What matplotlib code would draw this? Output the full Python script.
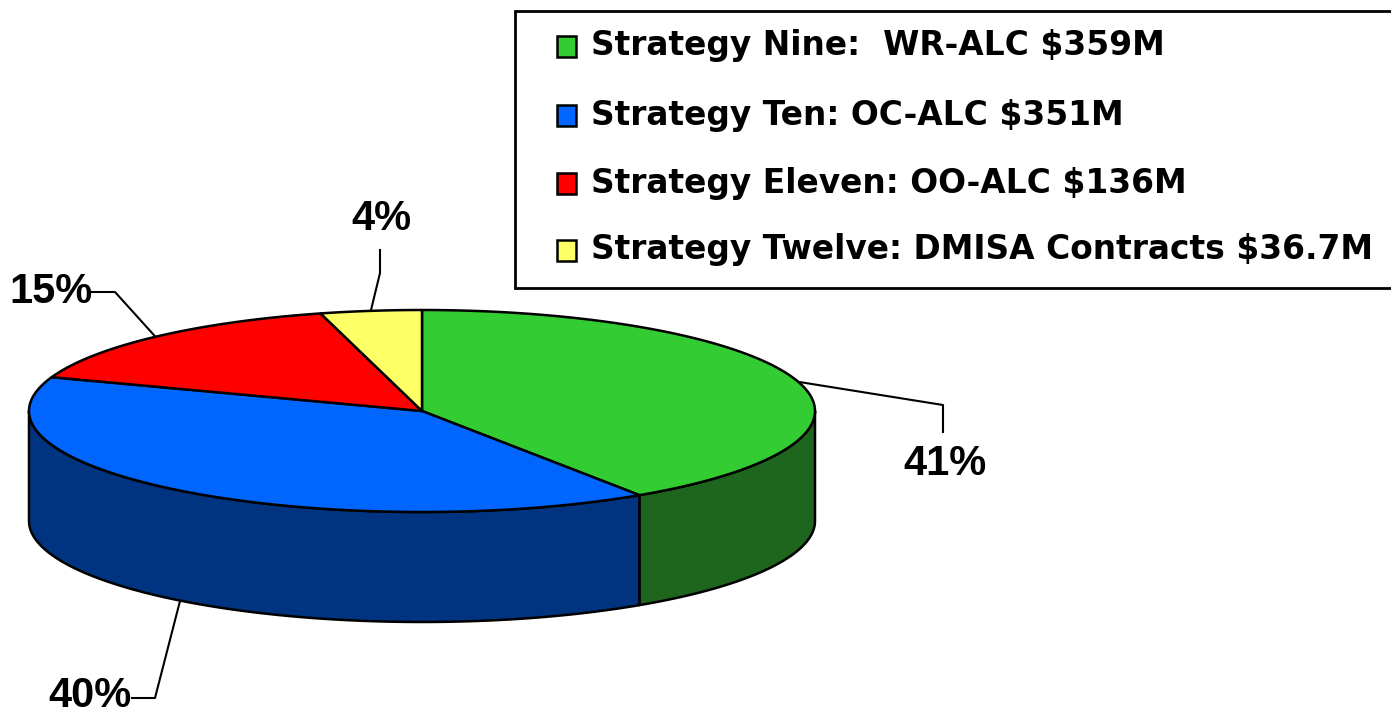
import numpy as np
import matplotlib.pyplot as plt
from matplotlib.patches import Polygon, Rectangle

plt.rcParams['font.family'] = ['Liberation Sans', 'DejaVu Sans']

names = ['Strategy Nine:  WR-ALC $359M',
         'Strategy Ten: OC-ALC $351M',
         'Strategy Eleven: OO-ALC $136M',
         'Strategy Twelve: DMISA Contracts $36.7M']
values = [359, 351, 136, 36.7]
top_colors = ['#33CC33', '#0066FF', '#FF0000', '#FFFF66']
side_colors = ['#1E661E', '#003380', '#800000', '#808033']

# pie geometry in pixel coords
cx, cy, a, b, depth = 422, 411, 393, 101, 110

fig = plt.figure(figsize=(13.91, 7.12), dpi=100)
ax = fig.add_axes([0, 0, 1, 1])
ax.set_xlim(0, 1391)
ax.set_ylim(712, 0)
ax.axis('off')

frac = np.array(values) / sum(values)
edges = np.concatenate([[0], np.cumsum(frac)]) * 360


def ell(t, dy=0):
    t = np.radians(t)
    return cx + a * np.sin(t), cy - b * np.cos(t) + dy


# side walls (front half only, 90..270 deg)
for i in range(len(values)):
    t0, t1 = max(edges[i], 90), min(edges[i + 1], 270)
    if t1 <= t0:
        continue
    tt = np.linspace(t0, t1, 100)
    x, y = ell(tt)
    xb, yb = ell(tt[::-1], depth)
    pts = np.column_stack([np.r_[x, xb], np.r_[y, yb]])
    ax.add_patch(Polygon(pts, closed=True, fc=side_colors[i], ec='black', lw=1.8, joinstyle='round'))

# top faces
for i in range(len(values)):
    tt = np.linspace(edges[i], edges[i + 1], 200)
    x, y = ell(tt)
    pts = np.column_stack([np.r_[cx, x], np.r_[cy, y]])
    ax.add_patch(Polygon(pts, closed=True, fc=top_colors[i], ec='black', lw=1.8, joinstyle='round'))

# percentage labels with leader lines
elbows = [[(943, 405), (943, 432)], [(155, 698), (132, 698)],
          [(115, 292), (92, 292)], [(380, 273), (380, 250)]]
text_pos = [(945, 464), (90, 696), (51, 292), (381, 219)]
for i in range(len(values)):
    mid = (edges[i] + edges[i + 1]) / 2
    front = 90 < mid < 270
    x0, y0 = ell(mid, depth if front else 0)
    xs = [x0] + [p[0] for p in elbows[i]]
    ys = [y0] + [p[1] for p in elbows[i]]
    ax.plot(xs, ys, color='black', lw=1.5)
    ax.text(*text_pos[i], f'{frac[i] * 100:.0f}%', ha='center', va='center',
            fontsize=30, fontweight='bold')

# legend
ax.add_patch(Rectangle((515, 11), 900, 277, fc='white', ec='black', lw=2))
rows = [46, 115, 183, 250]
for i, nm in enumerate(names):
    ax.add_patch(Rectangle((557, rows[i] - 10), 19, 21, fc=top_colors[i], ec='black', lw=1.8))
    ax.text(591, rows[i], nm, ha='left', va='center', fontsize=23.7, fontweight='bold',
            family='DejaVu Sans')

fig.savefig('out.png', dpi=100)
